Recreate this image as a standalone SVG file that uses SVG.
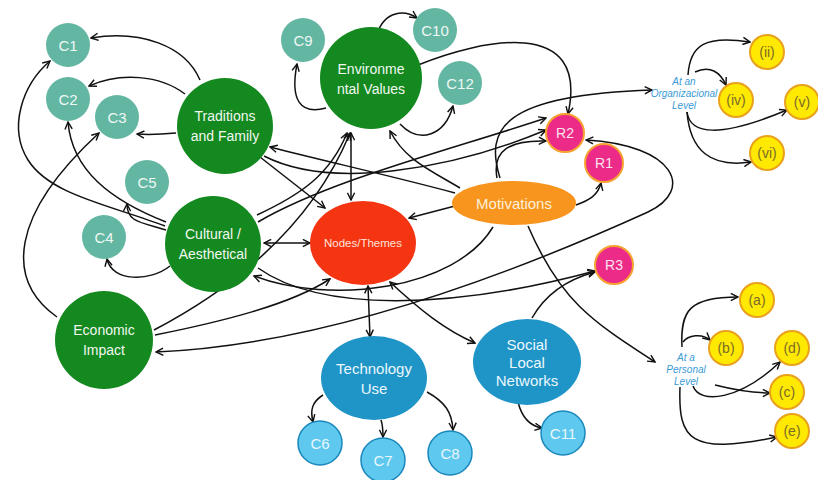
<svg xmlns="http://www.w3.org/2000/svg" width="818" height="480" viewBox="0 0 818 480">
<defs>
<marker id="ah" viewBox="0 0 10 10" refX="9" refY="5" markerWidth="9" markerHeight="9" markerUnits="userSpaceOnUse" orient="auto-start-reverse">
<path d="M1,1 L9,5 L1,9" fill="none" stroke="#111" stroke-width="1.6"/>
</marker>
</defs>
<style>
text{font-family:"Liberation Sans",Arial,sans-serif;text-anchor:middle;dominant-baseline:central}
.g{fill:#13891f}
.t{fill:#63b6a2}
.wt{fill:#f2f7f2;font-size:14px}
.ct{fill:#eef8f5;font-size:15px}
.r{fill:#ec2b89;stroke:#f6a330;stroke-width:2}
.rt{fill:#fbe3ef;font-size:14px}
.b{fill:#1f94c6}
.lb{fill:#5fc8ef;stroke:#1b88bc;stroke-width:1.5}
.lbt{fill:#eaf7fd;font-size:15px}
.y{fill:#ffe900;stroke:#e9a11d;stroke-width:2}
.yt{fill:#7a6b2c;font-size:14px}
.lv{fill:#3b9bd6;font-size:10px;font-style:italic}
#conn path{fill:none;stroke:#111;stroke-width:1.5;marker-end:url(#ah)}
#conn path.d{marker-start:url(#ah)}
</style>
<rect width="818" height="480" fill="#fff"/>
<g id="conn">
<path d="M200,80 C185,45 140,30 91,38"/>
<path d="M185,94 C160,75 120,72 89,86"/>
<path d="M176,133 C165,134 150,135 137,134"/>
<path d="M165,226 C110,205 50,195 28,160 C8,128 22,85 50,61"/>
<path d="M166,222 C110,200 72,170 68,122"/>
<path d="M57,317 C5,280 10,215 99,133"/>
<path d="M166,230 C140,222 127,222 127,204"/>
<path d="M170,266 C150,282 112,282 107,259"/>
<path d="M326,108 C300,115 290,100 297,64"/>
<path d="M377,34 C385,10 405,10 417,18"/>
<path d="M400,124 C420,145 445,135 453,106"/>
<path d="M418,65 C480,40 590,15 568,114"/>
<path d="M260,157 L325,208"/>
<path class="d" d="M351,133 L351,200"/>
<path d="M460,188 C430,170 405,160 390,131"/>
<path d="M455,193 C400,178 320,160 270,147"/>
<path d="M264,156 C330,190 450,170 546,130"/>
<path d="M258,222 C330,180 450,150 546,118"/>
<path d="M154,330 C230,290 310,230 350,133"/>
<path d="M257,215 C300,195 330,175 347,133"/>
<path d="M455,206 L409,218"/>
<path d="M576,205 C590,200 598,195 601,183"/>
<path d="M497,178 C492,150 510,140 546,141"/>
<path d="M500,178 C485,130 500,95 652,90"/>
<path d="M528,226 C560,300 590,320 655,362"/>
<path d="M493,227 C455,290 330,305 254,276"/>
<path d="M155,335 C220,322 290,305 330,279"/>
<path class="d" d="M156,352 C330,345 520,270 648,212 C695,190 675,145 586,140"/>
<path class="d" d="M264,243 L310,243"/>
<path d="M258,268 C320,312 450,310 595,271"/>
<path d="M532,318 C545,295 565,280 595,272"/>
<path class="d" d="M368,286 L370,337"/>
<path class="d" d="M390,282 C420,310 445,330 475,343"/>
<path d="M323,395 C312,402 310,410 313,422"/>
<path d="M381,420 C383,426 383,431 383,437"/>
<path d="M427,392 C445,402 452,412 453,430"/>
<path d="M518,402 C522,418 530,426 542,428"/>
<path d="M688,75 C690,45 705,35 750,42"/>
<path d="M695,72 C710,65 720,72 726,85"/>
<path d="M687,112 C690,135 720,138 787,110"/>
<path d="M687,112 C690,150 710,168 751,162"/>
<path d="M682,347 C680,310 690,297 738,297"/>
<path d="M683,342 C688,335 702,333 710,340"/>
<path d="M693,386 C700,405 740,400 780,362"/>
<path d="M715,385 C735,390 750,393 770,393"/>
<path d="M680,387 C678,440 690,455 777,437"/>
</g>
<g id="c1"><circle class="t" cx="68" cy="45" r="22"/><text class="ct" x="68" y="45">C1</text></g>
<g id="c2"><circle class="t" cx="68" cy="99" r="22"/><text class="ct" x="68" y="99">C2</text></g>
<g id="c3"><circle class="t" cx="117" cy="117" r="22"/><text class="ct" x="117" y="117">C3</text></g>
<g id="c5"><circle class="t" cx="147" cy="182" r="22"/><text class="ct" x="147" y="182">C5</text></g>
<g id="c4"><circle class="t" cx="104" cy="237" r="22"/><text class="ct" x="104" y="237">C4</text></g>
<g id="c9"><circle class="t" cx="303" cy="40" r="22"/><text class="ct" x="303" y="40">C9</text></g>
<g id="c10"><circle class="t" cx="435" cy="30" r="22"/><text class="ct" x="435" y="30">C10</text></g>
<g id="c12"><circle class="t" cx="460" cy="83" r="22"/><text class="ct" x="460" y="83">C12</text></g>
<g id="traditions"><circle class="g" cx="225" cy="126" r="48"/><text class="wt" x="225" y="116">Traditions</text><text class="wt" x="225" y="136">and Family</text></g>
<g id="cultural"><circle class="g" cx="213" cy="244" r="48"/><text class="wt" x="213" y="234">Cultural /</text><text class="wt" x="213" y="254">Aesthetical</text></g>
<g id="economic"><circle class="g" cx="104" cy="340" r="49"/><text class="wt" x="104" y="330">Economic</text><text class="wt" x="104" y="350">Impact</text></g>
<g id="environmental"><circle class="g" cx="371" cy="78" r="51"/><text class="wt" x="371" y="69">Environme</text><text class="wt" x="371" y="89">ntal Values</text></g>
<g id="nodes"><ellipse cx="363" cy="243" rx="53" ry="42" fill="#f53412"/><text x="363" y="243" fill="#fde4da" font-size="11.5">Nodes/Themes</text></g>
<g id="motivations"><ellipse cx="514" cy="203" rx="62" ry="22" fill="#f7951e"/><text x="514" y="203" fill="#fdf0dc" font-size="15">Motivations</text></g>
<g id="r2"><circle class="r" cx="565" cy="133" r="19"/><text class="rt" x="565" y="133">R2</text></g>
<g id="r1"><circle class="r" cx="604" cy="163" r="19"/><text class="rt" x="604" y="163">R1</text></g>
<g id="r3"><circle class="r" cx="614" cy="265" r="19"/><text class="rt" x="614" y="265">R3</text></g>
<g id="technology"><ellipse class="b" cx="374" cy="378" rx="53" ry="42"/><text class="lbt" x="374" y="368">Technology</text><text class="lbt" x="374" y="388">Use</text></g>
<g id="social"><ellipse class="b" cx="527" cy="362" rx="54" ry="43"/><text class="lbt" x="527" y="344" font-size="14">Social</text><text class="lbt" x="527" y="362" font-size="14">Local</text><text class="lbt" x="527" y="380" font-size="14">Networks</text></g>
<g id="c6"><circle class="lb" cx="320" cy="443" r="22"/><text class="lbt" x="320" y="443">C6</text></g>
<g id="c7"><circle class="lb" cx="383" cy="460" r="22"/><text class="lbt" x="383" y="460">C7</text></g>
<g id="c8"><circle class="lb" cx="450" cy="453" r="22"/><text class="lbt" x="450" y="453">C8</text></g>
<g id="c11"><circle class="lb" cx="563" cy="433" r="22"/><text class="lbt" x="563" y="433">C11</text></g>
<g id="org"><text class="lv" x="684" y="81">At an</text><text class="lv" x="684" y="93">Organizacional</text><text class="lv" x="684" y="105">Level</text></g>
<g id="ii"><circle class="y" cx="767" cy="52" r="17"/><text class="yt" x="767" y="52">(ii)</text></g>
<g id="iv"><circle class="y" cx="736" cy="100" r="17"/><text class="yt" x="736" y="100">(iv)</text></g>
<g id="v"><circle class="y" cx="802" cy="102" r="17"/><text class="yt" x="802" y="102">(v)</text></g>
<g id="vi"><circle class="y" cx="767" cy="153" r="17"/><text class="yt" x="767" y="153">(vi)</text></g>
<g id="personal"><text class="lv" x="686" y="357">At a</text><text class="lv" x="686" y="369">Personal</text><text class="lv" x="686" y="381">Level</text></g>
<g id="a"><circle class="y" cx="757" cy="300" r="17"/><text class="yt" x="757" y="300">(a)</text></g>
<g id="b"><circle class="y" cx="726" cy="348" r="17"/><text class="yt" x="726" y="348">(b)</text></g>
<g id="d"><circle class="y" cx="792" cy="348" r="17"/><text class="yt" x="792" y="348">(d)</text></g>
<g id="c"><circle class="y" cx="787" cy="392" r="17"/><text class="yt" x="787" y="392">(c)</text></g>
<g id="e"><circle class="y" cx="792" cy="431" r="17"/><text class="yt" x="792" y="431">(e)</text></g>
</svg>
